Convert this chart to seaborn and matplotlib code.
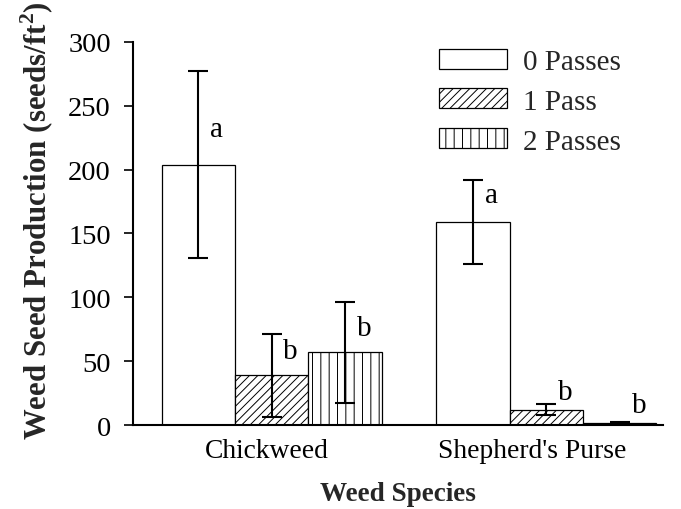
import matplotlib
matplotlib.use("Agg")
import matplotlib.pyplot as plt
import matplotlib.transforms as mtransforms
import seaborn as sns
import pandas as pd

categories = ["Chickweed", "Shepherd's Purse"]
passes = ["0 Passes", "1 Pass", "2 Passes"]
means_chickweed = [204, 39, 57]
means_shepherd = [159, 12, 1.5]
err_chickweed = [73, 32.5, 39.5]
err_shepherd = [33, 4.5, 1.0]
letters_chickweed = ["a", "b", "b"]
letters_shepherd = ["a", "b", "b"]
letter_y_chickweed = [226, 52.5, 70.5]
letter_y_shepherd = [174.5, 20.5, 10]

rows = []
for p_i, p in enumerate(passes):
    rows.append({"species": categories[0], "passes": p, "value": means_chickweed[p_i],
                 "err": err_chickweed[p_i], "letter": letters_chickweed[p_i],
                 "ly": letter_y_chickweed[p_i]})
    rows.append({"species": categories[1], "passes": p, "value": means_shepherd[p_i],
                 "err": err_shepherd[p_i], "letter": letters_shepherd[p_i],
                 "ly": letter_y_shepherd[p_i]})
df = pd.DataFrame(rows)

sns.set_style("white")
plt.rcParams["font.family"] = ["Liberation Serif", "DejaVu Serif"]
plt.rcParams["mathtext.fontset"] = "custom"
plt.rcParams["mathtext.rm"] = "Liberation Serif"
plt.rcParams["mathtext.bf"] = "Liberation Serif:bold"
plt.rcParams["hatch.linewidth"] = 0.7
plt.rcParams["hatch.color"] = "#222222"

fig = plt.figure(figsize=(6.81, 5.10), dpi=100)
ax = fig.add_axes([133 / 681, 1 - 426 / 510, (663 - 133) / 681, (426 - 43) / 510])

sns.barplot(data=df, x="species", y="value", hue="passes", order=categories,
            hue_order=passes, errorbar=None, width=0.8, ax=ax,
            palette=["white", "white", "white"], edgecolor="black", linewidth=0.9,
            legend=True)

hatches = ["", "////", "||"]
for h_i, (cont, hatch) in enumerate(zip(ax.containers, hatches)):
    sub = df[df["passes"] == passes[h_i]].set_index("species").loc[categories]
    for bar, (_, r) in zip(cont.patches, sub.iterrows()):
        bar.set_hatch(hatch)
        bar.set_facecolor("white")
        bar.set_edgecolor("black")
        cx = bar.get_x() + bar.get_width() / 2
        ax.errorbar(cx, r["value"], yerr=r["err"], fmt="none", ecolor="black",
                    elinewidth=1.5, capsize=7, capthick=1.5, zorder=5)
        ax.annotate(r["letter"], xy=(cx, r["ly"]), xytext=(8.5, 0),
                    textcoords="offset points", ha="left", va="baseline",
                    fontsize=21, color="black")

ax.set_ylim(0, 300)
ax.set_xlim(-0.504, 1.424)
ax.set_yticks([0, 50, 100, 150, 200, 250, 300])
ax.tick_params(axis="y", direction="out", length=6.5, width=1.2, pad=9.5,
               labelsize=20.5, left=True, colors="black")
ax.tick_params(axis="x", length=0, pad=9, labelsize=19.8, colors="black")
for s in ["top", "right"]:
    ax.spines[s].set_visible(False)
for s in ["left", "bottom"]:
    ax.spines[s].set_linewidth(1.5)
    ax.spines[s].set_color("black")

# small horizontal shift of tick labels as in reference
shifts = [-5, -14]
for lab, dx in zip(ax.get_xticklabels(), shifts):
    lab.set_transform(lab.get_transform() + mtransforms.ScaledTranslation(dx / 100, 0, fig.dpi_scale_trans))

ax.set_xlabel("Weed Species", fontsize=19.5, fontweight="bold", labelpad=13)
ax.set_ylabel(r"Weed Seed Production (seeds/ft$^{\mathbf{2}}$)", fontsize=22.2,
              fontweight="bold")
ax.yaxis.set_label_coords(-0.146, 0.535)

leg = ax.legend(loc="upper left", bbox_to_anchor=(439 / 681, 1 - 49.5 / 510),
                bbox_transform=fig.transFigure, frameon=False, fontsize=21,
                handlelength=2.33, handleheight=0.68, handletextpad=0.55,
                labelspacing=0.47, borderpad=0, borderaxespad=0, title=None)
for patch, hatch in zip(leg.get_patches(), hatches):
    patch.set_hatch(hatch)
    patch.set_facecolor("white")
    patch.set_edgecolor("black")

fig.savefig("out.png", dpi=100)
